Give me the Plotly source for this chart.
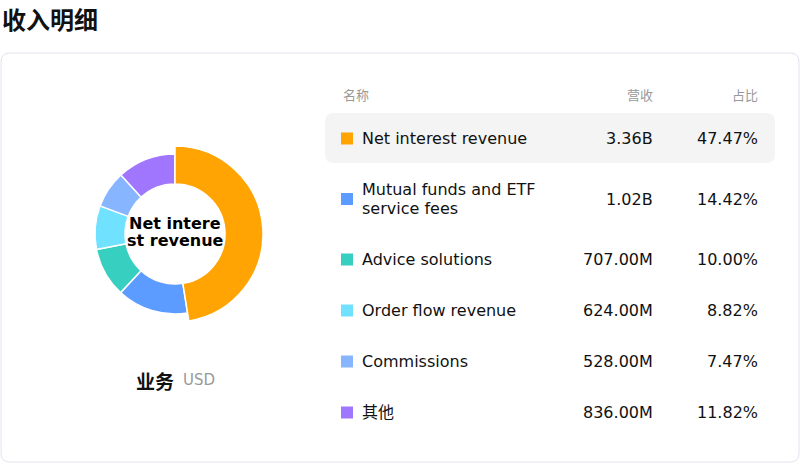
import plotly.graph_objects as go

# data
names = ['Net interest revenue', 'Mutual funds and ETF<br>service fees', 'Advice solutions',
         'Order flow revenue', 'Commissions', '其他']
revenue = [3.36e9, 1.02e9, 707e6, 624e6, 528e6, 836e6]
revenue_labels = ['3.36B', '1.02B', '707.00M', '624.00M', '528.00M', '836.00M']
share_labels = ['47.47%', '14.42%', '10.00%', '8.82%', '7.47%', '11.82%']
colors = ['#FFA402', '#5C9BFF', '#36CFC0', '#70E1FF', '#87B5FF', '#A076FF']
headers = ['名称', '营收', '占比']
center_label = ['Net intere', 'st revenue']

W, H = 800, 463
FONT = 'DejaVu Sans, Noto Sans CJK SC'


def px(x):
    return x / W


def py(y):
    return 1 - y / H


def rounded_rect(x0, y0, x1, y1, r):
    return (f'M{px(x0 + r)},{py(y0)} L{px(x1 - r)},{py(y0)} Q{px(x1)},{py(y0)} {px(x1)},{py(y0 + r)} '
            f'L{px(x1)},{py(y1 - r)} Q{px(x1)},{py(y1)} {px(x1 - r)},{py(y1)} '
            f'L{px(x0 + r)},{py(y1)} Q{px(x0)},{py(y1)} {px(x0)},{py(y1 - r)} '
            f'L{px(x0)},{py(y0 + r)} Q{px(x0)},{py(y0)} {px(x0 + r)},{py(y0)} Z')


fig = go.Figure()

# donut: normal ring, then the highlighted slice drawn bigger on top
cx, cy, r_in, r_out, r_big = 175, 234, 50, 80, 88
fig.add_trace(go.Pie(
    values=revenue, labels=names, sort=False, direction='clockwise', rotation=0,
    hole=r_in / r_out, textinfo='none', hoverinfo='skip', showlegend=False,
    domain=dict(x=[px(cx - r_out), px(cx + r_out)], y=[py(cy + r_out), py(cy - r_out)]),
    marker=dict(colors=colors, line=dict(color='white', width=1.5)),
))
fig.add_trace(go.Pie(
    values=revenue, labels=names, sort=False, direction='clockwise', rotation=0,
    hole=r_in / r_big, textinfo='none', hoverinfo='skip', showlegend=False,
    domain=dict(x=[px(cx - r_big), px(cx + r_big)], y=[py(cy + r_big), py(cy - r_big)]),
    marker=dict(colors=[colors[0]] + ['rgba(0,0,0,0)'] * (len(colors) - 1),
                line=dict(color=['white'] + ['rgba(0,0,0,0)'] * (len(colors) - 1), width=1.5)),
))

shapes = [dict(type='path', xref='paper', yref='paper', path=rounded_rect(1, 53, 799, 462, 9),
               line=dict(color='#e2e2ee', width=1), fillcolor='rgba(0,0,0,0)', layer='below')]
annotations = [
    dict(text='<b>收入明细</b>', x=px(1), y=py(0), xanchor='left', yanchor='top', borderpad=0,
         font=dict(size=24, color='#111', family='Noto Sans CJK SC')),
    dict(text='<b>业务</b>', x=px(134), y=py(380), xanchor='left', yanchor='middle',
         font=dict(size=19, color='#111', family='Noto Sans CJK SC')),
    dict(text='USD', x=px(181), y=py(380), xanchor='left', yanchor='middle',
         font=dict(size=15, color='#999', family=FONT)),
]
for k, line in enumerate(center_label):
    annotations.append(dict(text=f'<b>{line}</b>', x=px(cx), y=py(224 + 17 * k), xanchor='center',
                            yanchor='middle', font=dict(size=16, color='#000', family=FONT)))

# table header
hy = 95
for text, x, anchor in zip(headers, [341, 655, 760], ['left', 'right', 'right']):
    annotations.append(dict(text=text, x=px(x), y=py(hy), xanchor=anchor, yanchor='middle',
                            font=dict(size=13, color='#999', family=FONT)))

# table rows
top = 113
for i, name in enumerate(names):
    lines = name.split('<br>')
    h = 51 + 19 * (len(lines) - 1)
    yc = top + h / 2
    if i == 0:
        shapes.append(dict(type='path', xref='paper', yref='paper', path=rounded_rect(325, top, 775, top + 50, 9),
                           line=dict(width=0), fillcolor='#f4f4f4', layer='below'))
    shapes.append(dict(type='rect', xref='paper', yref='paper', x0=px(341), x1=px(353),
                       y0=py(yc - 6), y1=py(yc + 6), fillcolor=colors[i], line=dict(width=0)))
    for k, line in enumerate(lines):
        ly = yc + 19 * (k - (len(lines) - 1) / 2)
        annotations.append(dict(text=line, x=px(360), y=py(ly), xanchor='left', yanchor='middle',
                                font=dict(size=16, color='#111', family=FONT)))
    annotations.append(dict(text=revenue_labels[i], x=px(655), y=py(yc), xanchor='right', yanchor='middle',
                            font=dict(size=16, color='#111', family=FONT)))
    annotations.append(dict(text=share_labels[i], x=px(760), y=py(yc), xanchor='right', yanchor='middle',
                            font=dict(size=16, color='#111', family=FONT)))
    top += h

for a in annotations:
    a.update(xref='paper', yref='paper', showarrow=False)

fig.update_layout(
    width=W, height=H, margin=dict(l=0, r=0, t=0, b=0),
    paper_bgcolor='white', plot_bgcolor='white',
    shapes=shapes, annotations=annotations,
)
fig.write_html('out.html', config={'displayModeBar': False},
               post_script="document.body.style.margin='0';")
